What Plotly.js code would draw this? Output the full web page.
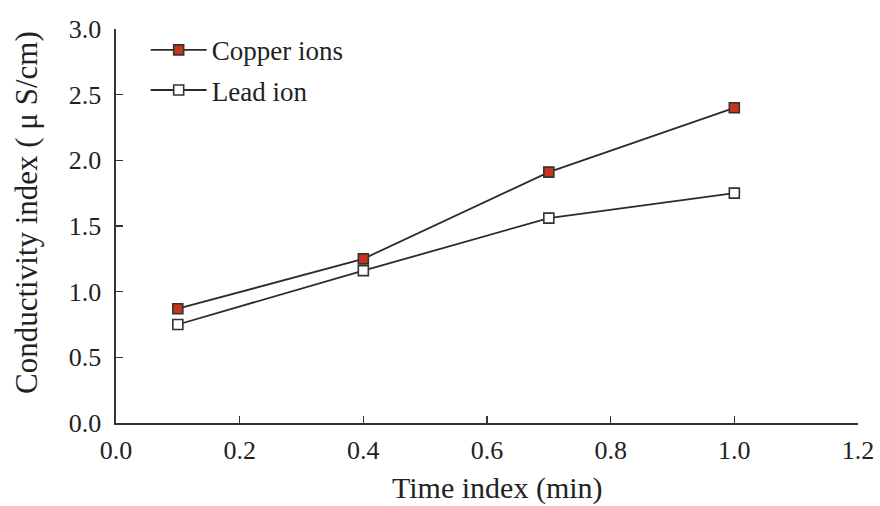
<!DOCTYPE html>
<html>
<head>
<meta charset="utf-8">
<script src="https://cdn.plot.ly/plotly-3.0.1.min.js"></script>
<style>html,body{margin:0;padding:0;background:#fff;}#chart{width:880px;height:506px;}</style>
</head>
<body>
<div id="chart"></div>
<script>
const timeIndex = [0.1, 0.4, 0.7, 1.0];
const copperIons = [0.87, 1.25, 1.91, 2.40];
const leadIon = [0.75, 1.16, 1.56, 1.75];
const seriesNames = ["Copper ions", "Lead ion"];
const xTicks = [0.0, 0.2, 0.4, 0.6, 0.8, 1.0, 1.2];
const yTicks = [0.0, 0.5, 1.0, 1.5, 2.0, 2.5, 3.0];
const xTitle = "Time index (min)";
const yTitle = "Conductivity index ( \u03bc S/cm)";

const fam = "Liberation Serif, Times New Roman, serif";
const tickFont = {family: fam, size: 26, color: "#222"};
const legFont = {family: fam, size: 27, color: "#222"};
const titleFont = {family: fam, size: 30, color: "#222"};

const traces = [
  {x: timeIndex, y: copperIons, name: seriesNames[0], legendgroup: "a", mode: "lines+markers",
   line: {color: "#2b2b2b", width: 1.8},
   marker: {symbol: "square", size: 10, color: "#c8341a", line: {color: "#333", width: 1.6}}},
  {x: timeIndex, y: leadIon, name: seriesNames[1], legendgroup: "b", mode: "lines+markers",
   line: {color: "#2b2b2b", width: 1.8},
   marker: {symbol: "square", size: 10, color: "#ffffff", line: {color: "#333", width: 1.6}}}
];

const axisCommon = {
  showgrid: false, zeroline: false, showline: true, linecolor: "#333", linewidth: 1.6,
  ticks: "inside", ticklen: 7, tickwidth: 1.4, tickcolor: "#333", tickfont: tickFont, mirror: false
};

const layout = {
  width: 880, height: 506,
  margin: {l: 116, r: 22, t: 29, b: 83},
  paper_bgcolor: "#fff", plot_bgcolor: "#fff",
  font: tickFont,
  showlegend: true,
  legend: {x: 0.04, y: 1.008, xanchor: "left", yanchor: "top", bgcolor: "rgba(0,0,0,0)",
           font: legFont, traceorder: "grouped", tracegroupgap: 2, itemwidth: 56},
  xaxis: Object.assign({}, axisCommon, {
    range: [0, 1.2], tickvals: xTicks, ticktext: xTicks.map(v => v.toFixed(1)),
    ticklabelstandoff: 3
  }),
  yaxis: Object.assign({}, axisCommon, {
    range: [0, 3.0], tickvals: yTicks, ticktext: yTicks.map(v => v.toFixed(1)),
    ticklabelstandoff: 8
  }),
  annotations: [
    {text: xTitle, xref: "paper", yref: "paper", x: 0.5148, y: -0.165,
     xanchor: "center", yanchor: "middle", showarrow: false, font: titleFont},
    {text: yTitle, xref: "paper", yref: "paper", x: -0.1213, y: 0.5355, textangle: -90,
     xanchor: "center", yanchor: "middle", showarrow: false, font: Object.assign({}, titleFont, {size: 31})}
  ]
};

Plotly.newPlot("chart", traces, layout, {displayModeBar: false, staticPlot: true});
</script>
</body>
</html>
